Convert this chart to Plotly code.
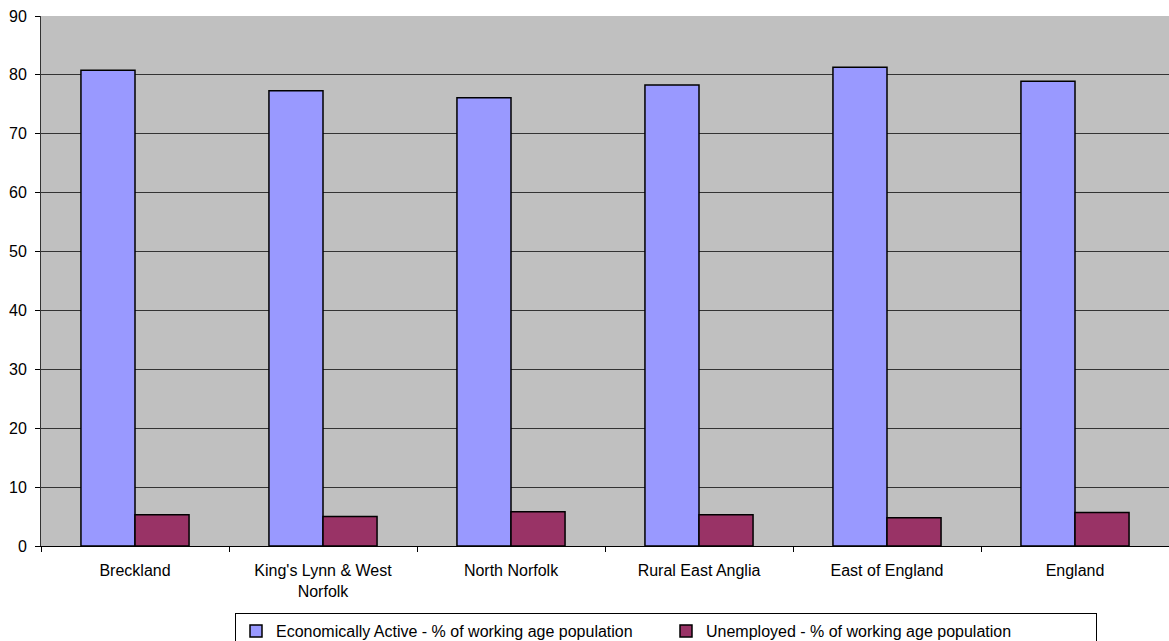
import plotly.graph_objects as go

areas = ["Breckland", "King's Lynn & West<br>Norfolk", "North Norfolk",
         "Rural East Anglia", "East of England", "England"]
econ_active = [80.8, 77.3, 76.1, 78.3, 81.3, 78.9]
unemployed = [5.3, 5.0, 5.8, 5.3, 4.8, 5.7]
y_ticks = [0, 10, 20, 30, 40, 50, 60, 70, 80, 90]

font = dict(family="Liberation Sans, Arial, sans-serif", size=16, color="#000000")

fig = go.Figure()
fig.add_trace(go.Bar(
    x=areas, y=econ_active,
    name="Economically Active - % of working age population",
    marker=dict(color="#9999FF", line=dict(color="#000000", width=1.5)),
))
fig.add_trace(go.Bar(
    x=areas, y=unemployed,
    name="Unemployed - % of working age population",
    marker=dict(color="#993366", line=dict(color="#000000", width=1.5)),
))

fig.update_layout(
    width=1169, height=641,
    margin=dict(l=41, r=0, t=16, b=95, autoexpand=False),
    paper_bgcolor="#FFFFFF",
    plot_bgcolor="#C0C0C0",
    font=font,
    barmode="group",
    bargap=0.425,
    bargroupgap=0,
    showlegend=True,
    legend=dict(
        orientation="h",
        xref="container", x=235 / 1169, xanchor="left",
        yref="container", y=1 - 613 / 641, yanchor="top",
        bordercolor="#000000", borderwidth=1,
        bgcolor="#FFFFFF",
        font=font,
        entrywidth=385,
        itemwidth=30,
        traceorder="normal",
    ),
    xaxis=dict(
        type="category",
        showline=True, linecolor="#000000", linewidth=1,
        ticks="outside", ticklen=5, tickcolor="#000000",
        tickson="boundaries",
        ticklabelstandoff=10,
        showgrid=False,
        tickfont=font,
    ),
    yaxis=dict(
        range=[0, 90],
        tickvals=y_ticks,
        showline=True, linecolor="#333333", linewidth=1,
        ticks="outside", ticklen=5, tickcolor="#000000",
        ticklabelstandoff=5,
        showgrid=True, gridcolor="#333333", gridwidth=1,
        zeroline=False,
        tickfont=font,
    ),
)

fig.write_html("out.html")
